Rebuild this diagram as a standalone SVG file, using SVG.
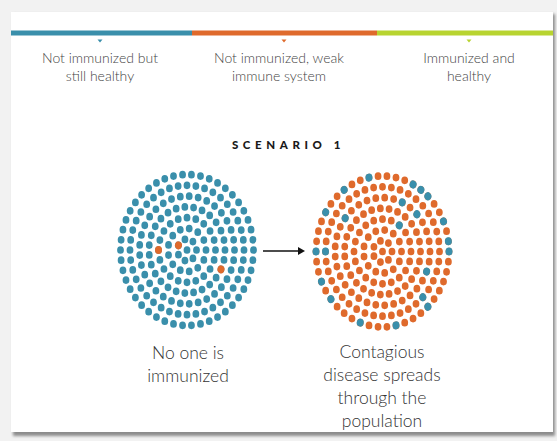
<svg xmlns="http://www.w3.org/2000/svg" width="557" height="441" viewBox="0 0 557 441">
<defs>
<style>
.lbl{font-family:Lato,"Open Sans","Liberation Sans",sans-serif;font-size:14px;font-weight:300;fill:#444;text-anchor:middle}
.cap{font-family:Lato,"Open Sans","Liberation Sans",sans-serif;font-size:17.5px;font-weight:300;fill:#333;text-anchor:middle}
.ttl{font-family:Lato,"Liberation Sans",sans-serif;font-size:11.5px;font-weight:900;fill:#1a1a1a;letter-spacing:4.6px;text-anchor:middle}
.ring{fill:none;stroke-width:6.8;stroke-linecap:round;stroke-dasharray:0 1}
.b{stroke:#3a8fab}
.o{stroke:#df6a2c}
.db{fill:#3a8fab}
.do{fill:#df6a2c}
</style>
<filter id="sh" x="-5%" y="-5%" width="110%" height="110%">
<feGaussianBlur stdDeviation="1.5"/>
</filter>
</defs>
<rect width="557" height="441" fill="#f2f2f2"/>
<rect x="13" y="14" width="542" height="422" fill="#8c8c8c" filter="url(#sh)"/>
<rect x="11" y="12" width="542" height="420" fill="#ffffff"/>

<g id="legend">
<rect x="11" y="30.5" width="181" height="5" fill="#3a8fab"/>
<rect x="192" y="30.5" width="185" height="5" fill="#df6a2c"/>
<rect x="377" y="30.5" width="176" height="5" fill="#b8d430"/>
<polygon points="97.5,39.5 102.5,39.5 100,42.5" fill="#3a8fab"/>
<polygon points="281.5,39.5 286.5,39.5 284,42.5" fill="#df6a2c"/>
<polygon points="466.5,39.5 471.5,39.5 469,42.5" fill="#b8d430"/>
<text class="lbl" x="100" y="63">Not immunized but</text>
<text class="lbl" x="100" y="81">still healthy</text>
<text class="lbl" x="279" y="63">Not immunized, weak</text>
<text class="lbl" x="279" y="81">immune system</text>
<text class="lbl" x="469" y="63">Immunized and</text>
<text class="lbl" x="469" y="81">healthy</text>
</g>

<g id="scenario-title">
<text class="ttl" x="288.5" y="149">SCENARIO 1</text>
</g>

<g id="left-population" transform="translate(187,250) scale(1,1.135)">
<circle r="3.4" class="db"/>
<circle r="9.5" pathLength="7" class="ring b"/>
<circle r="19" pathLength="13" class="ring b"/>
<circle r="28.5" pathLength="20" class="ring b"/>
<circle r="38" pathLength="27" class="ring b"/>
<circle r="47.5" pathLength="33" class="ring b"/>
<circle r="57" pathLength="40" class="ring b"/>
<circle r="66.5" pathLength="46" class="ring b"/>
<circle cx="28.5" r="3.5" class="do" transform="rotate(180)"/>
<circle cx="9.5" r="3.5" class="do" transform="rotate(205.71)"/>
<circle cx="38" r="3.5" class="do" transform="rotate(26.67)"/>
</g>

<g id="right-population" transform="translate(382.5,251.5) scale(1,1.135)">
<circle r="3.4" class="do"/>
<circle r="9.5" pathLength="7" class="ring o"/>
<circle r="19" pathLength="13" class="ring o"/>
<circle r="28.5" pathLength="20" class="ring o"/>
<circle r="38" pathLength="27" class="ring o"/>
<circle r="47.5" pathLength="33" class="ring o"/>
<circle r="57" pathLength="40" class="ring o"/>
<circle r="66.5" pathLength="46" class="ring o"/>
<g class="db">
<circle cx="66.5" r="3.5" transform="rotate(258.26)"/>
<circle cx="66.5" r="3.5" transform="rotate(234.78)"/>
<circle cx="66.5" r="3.5" transform="rotate(211.30)"/>
<circle cx="66.5" r="3.5" transform="rotate(180)"/>
<circle cx="66.5" r="3.5" transform="rotate(156.52)"/>
<circle cx="66.5" r="3.5" transform="rotate(140.87)"/>
<circle cx="66.5" r="3.5" transform="rotate(109.57)"/>
<circle cx="66.5" r="3.5" transform="rotate(78.26)"/>
<circle cx="66.5" r="3.5" transform="rotate(46.96)"/>
<circle cx="66.5" r="3.5" transform="rotate(0)"/>
<circle cx="66.5" r="3.5" transform="rotate(352.17)"/>
<circle cx="66.5" r="3.5" transform="rotate(336.52)"/>
<circle cx="66.5" r="3.5" transform="rotate(297.39)"/>
<circle cx="66.5" r="3.5" transform="rotate(305.22)"/>
<circle cx="66.5" r="3.5" transform="rotate(313.04)"/>
<circle cx="57" r="3.5" transform="rotate(180)"/>
<circle cx="57" r="3.5" transform="rotate(45)"/>
<circle cx="47.5" r="3.5" transform="rotate(218.18)"/>
<circle cx="47.5" r="3.5" transform="rotate(316.36)"/>
<circle cx="47.5" r="3.5" transform="rotate(21.82)"/>
<circle cx="47.5" r="3.5" transform="rotate(294.55)"/>
<circle cx="28.5" r="3.5" transform="rotate(306)"/>
</g>
</g>

<g id="connectors">
<line x1="263" y1="251" x2="299" y2="251" stroke="#111" stroke-width="1.5"/>
<polygon points="298,247 305,251 298,255" fill="#111"/>
</g>

<g id="left-caption">
<text class="cap" x="188" y="359">No one is</text>
<text class="cap" x="188" y="382">immunized</text>
</g>

<g id="right-caption">
<text class="cap" x="382" y="358">Contagious</text>
<text class="cap" x="382" y="381">disease spreads</text>
<text class="cap" x="382" y="404">through the</text>
<text class="cap" x="382" y="427">population</text>
</g>
</svg>
